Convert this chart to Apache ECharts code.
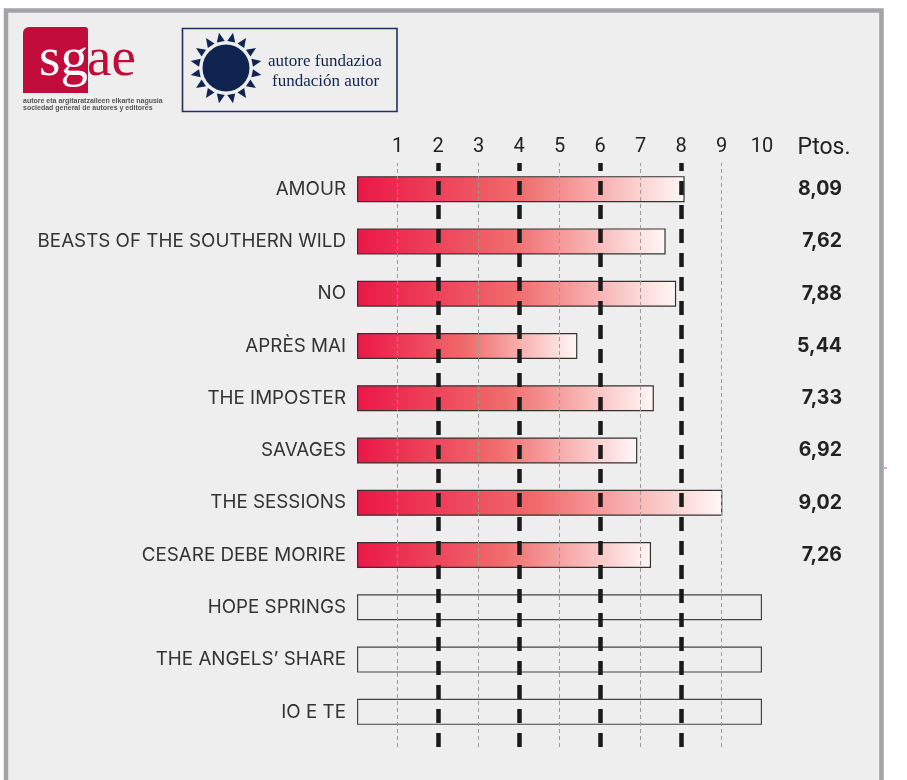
<!DOCTYPE html>
<html>
<head>
<meta charset="utf-8">
<script src="https://cdn.jsdelivr.net/npm/echarts@6/dist/echarts.min.js"></script>
<style>
  html, body { margin: 0; padding: 0; background: #ffffff; }
  #chart { width: 907px; height: 780px; }
</style>
</head>
<body>
<div id="chart"></div>
<script>
// datos
const categories = [
  'AMOUR', 'BEASTS OF THE SOUTHERN WILD', 'NO', 'APRÈS MAI', 'THE IMPOSTER',
  'SAVAGES', 'THE SESSIONS', 'CESARE DEBE MORIRE', 'HOPE SPRINGS',
  'THE ANGELS’ SHARE', 'IO E TE'
];
const scores = [8.09, 7.62, 7.88, 5.44, 7.33, 6.92, 9.02, 7.26, null, null, null];
const pending = [null, null, null, null, null, null, null, null, 10, 10, 10];
const tickLabels = ['', '1', '2', '3', '4', '5', '6', '7', '8', '9', '10'];
const oddLines = [1, 3, 5, 7, 9];
const evenLines = [2, 4, 6, 8];

const chart = echarts.init(document.getElementById('chart'));

const font = 'Inter, Roboto, "Liberation Sans", sans-serif';
const navy = '#102452';
const serif = '"Liberation Serif", "DejaVu Serif", serif';

// sol del logo: triangulos alrededor del circulo
const sunCx = 226, sunCy = 68;
const rays = [];
for (let i = 0; i < 16; i++) {
  const a = (i / 16) * Math.PI * 2 + Math.PI / 16;
  const r0 = 27, r1 = 36, hw = 0.15;
  rays.push({
    type: 'polygon',
    shape: {
      points: [
        [sunCx + Math.cos(a - hw) * r0, sunCy + Math.sin(a - hw) * r0],
        [sunCx + Math.cos(a + hw) * r0, sunCy + Math.sin(a + hw) * r0],
        [sunCx + Math.cos(a) * r1, sunCy + Math.sin(a) * r1]
      ]
    },
    style: { fill: navy }
  });
}

const option = {
  backgroundColor: 'transparent',
  animation: false,
  graphic: [
    // marco
    {
      type: 'rect', z: -10,
      shape: { x: 6, y: 10.5, width: 875.5, height: 800 },
      style: { fill: '#eeeeee', stroke: '#a3a3a7', lineWidth: 4.5 }
    },
    { type: 'rect', z: -10, shape: { x: 884, y: 467, width: 3, height: 2 }, style: { fill: '#f4a3b5' } },
    // logo sgae
    {
      type: 'rect',
      shape: { x: 23, y: 27, width: 65, height: 66, r: [6, 3, 0, 0] },
      style: { fill: '#c10c3b' }
    },
    {
      type: 'text', x: 39, y: 88,
      style: { text: 'sg', fill: '#ffffff', font: '55px ' + serif, textVerticalAlign: 'bottom' }
    },
    {
      type: 'text', x: 87, y: 88,
      style: { text: 'ae', fill: '#c10c3b', font: '55px ' + serif, textVerticalAlign: 'bottom' }
    },
    {
      type: 'text', x: 23, y: 101,
      style: { text: 'autore eta argitaratzaileen elkarte nagusia', fill: '#555555', font: 'bold 7px "Liberation Sans", sans-serif', textVerticalAlign: 'middle' }
    },
    {
      type: 'text', x: 23, y: 108.5,
      style: { text: 'sociedad general de autores y editores', fill: '#555555', font: 'bold 7px "Liberation Sans", sans-serif', textVerticalAlign: 'middle' }
    },
    // logo fundacion
    {
      type: 'rect',
      shape: { x: 182.5, y: 28.5, width: 214.5, height: 83 },
      style: { fill: 'transparent', stroke: '#1f3160', lineWidth: 1.6 }
    },
    { type: 'circle', shape: { cx: sunCx, cy: sunCy, r: 23.5 }, style: { fill: navy } },
    ...rays,
    {
      type: 'text', x: 268, y: 62,
      style: { text: 'autore fundazioa', fill: navy, font: '17px ' + serif, textVerticalAlign: 'middle' }
    },
    {
      type: 'text', x: 272, y: 82,
      style: { text: 'fundación autor', fill: navy, font: '17px ' + serif, textVerticalAlign: 'middle' }
    },
    // cabecera de puntos
    {
      type: 'text', x: 824, y: 148,
      style: { text: 'Ptos.', fill: '#222222', font: '23px Roboto, sans-serif', align: 'center', textVerticalAlign: 'middle' }
    }
  ],
  grid: [
    { left: 357, right: 145, top: 163, height: 575 },
    { left: 357, right: 145, top: 163, bottom: 33 }
  ],
  xAxis: [
    {
      gridIndex: 0, type: 'value', position: 'top', min: 0, max: 10, interval: 1,
      axisLine: { show: false }, axisTick: { show: false }, splitLine: { show: false },
      axisLabel: {
        margin: 6, color: '#222222', fontSize: 20, fontFamily: 'Roboto, sans-serif',
        formatter: (v) => tickLabels[Math.round(v)]
      }
    },
    {
      gridIndex: 1, type: 'value', min: 0, max: 10, show: false
    }
  ],
  yAxis: [
    {
      gridIndex: 0, type: 'category', data: categories, inverse: true,
      axisLine: { show: false }, axisTick: { show: false },
      axisLabel: { margin: 11, color: '#333333', fontSize: 18.8, fontFamily: font }
    },
    {
      gridIndex: 0, type: 'category', data: categories, inverse: true, position: 'right',
      axisLine: { show: false }, axisTick: { show: false },
      axisLabel: {
        margin: 80, align: 'right', color: '#222222', fontSize: 19.5, fontWeight: 'bold', fontFamily: font,
        formatter: (v, i) => scores[i] == null ? '' : scores[i].toFixed(2).replace('.', ',')
      }
    },
    { gridIndex: 1, type: 'value', min: 0, max: 1, show: false }
  ],
  series: [
    {
      type: 'bar', xAxisIndex: 0, yAxisIndex: 0, data: scores, barWidth: 26, z: 2,
      itemStyle: {
        color: new echarts.graphic.LinearGradient(0, 0, 1, 0, [
          { offset: 0, color: '#eb1747' },
          { offset: 0.5, color: '#f06c6c' },
          { offset: 1, color: '#fff8f6' }
        ]),
        borderColor: '#333333', borderWidth: 1.2
      }
    },
    {
      type: 'bar', xAxisIndex: 0, yAxisIndex: 0, data: pending, barWidth: 26, barGap: '-100%', z: 2,
      itemStyle: { color: 'rgba(0,0,0,0)', borderColor: '#444444', borderWidth: 1.2 }
    },
    {
      type: 'line', xAxisIndex: 1, yAxisIndex: 2, data: [], z: 5, silent: true,
      markLine: {
        silent: true, symbol: 'none', label: { show: false },
        lineStyle: { color: '#9a9a9a', width: 1, type: [4, 3] },
        data: oddLines.map((v) => ({ xAxis: v }))
      }
    },
    {
      type: 'line', xAxisIndex: 1, yAxisIndex: 2, data: [], z: 6, silent: true,
      markLine: {
        silent: true, symbol: 'none', label: { show: false },
        lineStyle: { color: '#1a1a1a', width: 4.5, type: [14, 10] },
        data: evenLines.map((v) => ({ xAxis: v }))
      }
    }
  ]
};

chart.setOption(option);
</script>
</body>
</html>
